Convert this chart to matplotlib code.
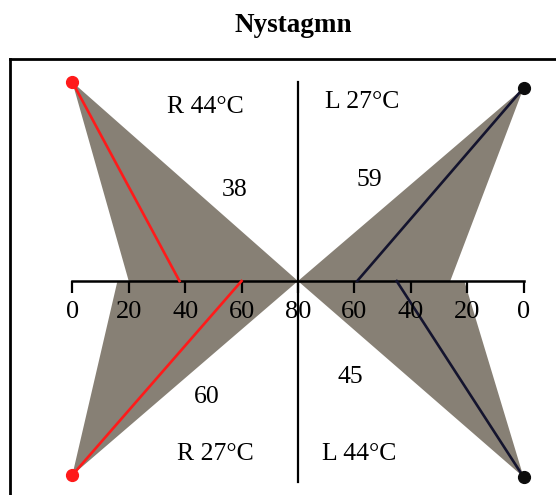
import numpy as np
import matplotlib.pyplot as plt
from matplotlib.patches import Polygon

plt.rcParams['font.family'] = ['Liberation Serif', 'DejaVu Serif']

# valores lidos nos eixos (0 nas pontas, 80 no centro)
tick_vals = [0, 20, 40, 60, 80, 60, 40, 20, 0]

# quadrantes: R 44, L 27, R 27, L 44
quad_names = ['R 44°C', 'L 27°C', 'R 27°C', 'L 44°C']
quad_side = [-1, 1, -1, 1]          # -1 = esquerda, 1 = direita
dot_height = [1.01, 0.98, -0.985, -0.995]
resp_vals = [38, 59, 60, 45]        # valor medido (linha colorida)
norm_vals = [20, 26, 16, 21]        # borda externa da faixa cinza
line_cols = ['#ff1a1a', '#14142e', '#ff1a1a', '#14142e']
dot_cols = ['#ff1a1a', '#0d0d0d', '#ff1a1a', '#0d0d0d']


def pos(v, lado):
    # 0 fica na ponta, 80 no centro
    return lado * (80 - v)


fig = plt.figure(figsize=(5.56, 4.95), dpi=100)
ax = fig.add_axes([10/556, 0, 1 - 10/556, (495 - 59)/495])
ax.set_xlim(-102.1, 91.5)
ax.set_ylim(-1.086, 1.127)
for s in ['right', 'bottom']:
    ax.spines[s].set_visible(False)
for s in ['left', 'top']:
    ax.spines[s].set_linewidth(2.0)
ax.set_xticks([])
ax.set_yticks([])

cinza = '#878075'
for lado, h, r, n, lc, dc in zip(quad_side, dot_height, resp_vals,
                                 norm_vals, line_cols, dot_cols):
    p0 = (pos(0, lado), h)
    tri = Polygon([p0, (pos(80, lado), 0), (pos(n, lado), 0)],
                  closed=True, facecolor=cinza, edgecolor='none', zorder=1)
    ax.add_patch(tri)
    ax.plot([p0[0], pos(r, lado)], [h, 0], color=lc, lw=1.9, zorder=3)
    ax.plot(p0[0], h, 'o', color=dc, ms=8.5, zorder=4)

# eixo horizontal com marcas
tick_x = [pos(v, -1) for v in tick_vals[:5]] + [pos(v, 1) for v in tick_vals[5:]]
ax.plot([tick_x[0], tick_x[-1]], [0, 0], color='black', lw=1.8, zorder=2)
ax.vlines(tick_x, -0.062, 0, color='black', lw=1.6, zorder=2)
for x, v in zip(tick_x, tick_vals):
    ax.text(x, -0.155, str(v), ha='center', va='center', fontsize=19, zorder=5)

# linha vertical central
ax.plot([0, 0], [-1.02, 1.01], color='black', lw=1.6, zorder=2)

# rótulos dos quadrantes e valores
name_xy = [(-33, 0.883), (22.7, 0.909), (-29.4, -0.878), (21.6, -0.878)]
val_xy = [(-22.3, 0.462), (25.2, 0.513), (-32.3, -0.589), (18.4, -0.487)]
for nome, (x, y) in zip(quad_names, name_xy):
    ax.text(x, y, nome, ha='center', va='center', fontsize=18.5)
for v, (x, y) in zip(resp_vals, val_xy):
    ax.text(x, y, str(v), ha='center', va='center', fontsize=18.5)

fig.text(0.527, 0.949, 'Nystagmn', ha='center', va='center',
         fontsize=19.5, fontweight='bold')

fig.savefig('out.png', dpi=100)
